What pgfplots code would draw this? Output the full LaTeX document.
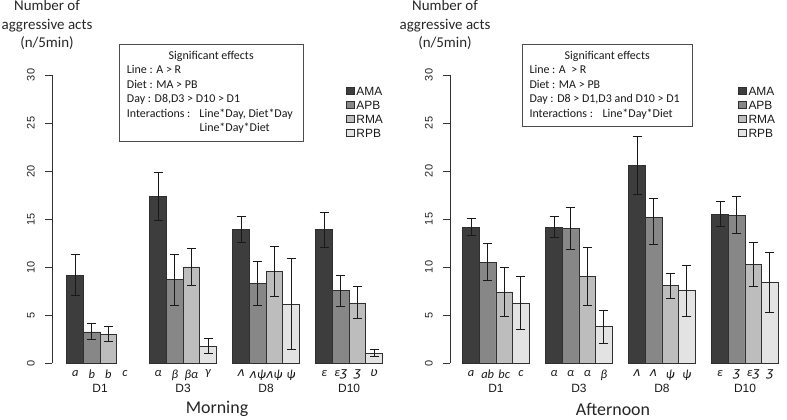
\documentclass[border=0pt]{standalone}
\usepackage{pgfplots}
\pgfplotsset{compat=1.18}
\usepackage{fontspec}
\setmainfont{Carlito}
\newfontfamily\arial{Liberation Sans}
\newfontfamily\ipa{DejaVu Sans}
\definecolor{cAMA}{HTML}{3D3D3D}
\definecolor{cAPB}{HTML}{878787}
\definecolor{cRMA}{HTML}{BDBDBD}
\definecolor{cRPB}{HTML}{E3E3E3}
\definecolor{edge}{HTML}{303030}
\pgfplotsset{
  panel/.style={
    scale only axis, height=288bp, ymin=0, ymax=30,
    anchor=south west,
    axis y line*=left, axis x line*=bottom,
    x axis line style={draw=none},
    y axis line style={draw=black!80, line width=0.9bp},
    ytick={0,5,...,30},
    ytick style={draw=black!80, line width=0.9bp},
    xtick style={draw=none},
    tick align=outside, major tick length=7bp,
    /pgf/number format/assume math mode=true,
    yticklabel style={rotate=90, anchor=south, inner ysep=10bp, font=\arial\fontsize{11}{11}\selectfont, text=black!85},
    xtick={1.5,2.5,3.5,4.5,6.5,7.5,8.5,9.5,11.5,12.5,13.5,14.5,16.5,17.5,18.5,19.5},
    xticklabel style={font=\fontsize{12.5}{12.5}\selectfont\itshape, text=black!90, yshift=3.5bp},
    ybar, bar width=1, /pgf/bar shift=0pt,
    every axis plot/.append style={draw=edge, line width=0.9bp},
    error bars/y dir=both, error bars/y explicit,
    error bars/error bar style={line width=1bp, draw=black!90},
    error bars/error mark options={rotate=90, line width=1bp, draw=black!90, mark size=4.5bp},
    legend image code/.code={\draw[#1, draw=edge, line width=0.7bp] (0bp,-3.6bp) rectangle (7.4bp,3.6bp);},
    legend style={draw=none, fill=none, inner sep=0pt, anchor=north west,
      font=\arial\fontsize{12}{12}\selectfont,
      nodes={text height=9bp, text depth=1bp, inner sep=2bp, text=black!90},
      /tikz/every even column/.style={column sep=6bp}},
    legend cell align=left,
    clip=false,
  }
}
\begin{document}
\begin{tikzpicture}
\path[use as bounding box] (0,0) rectangle (787bp,420bp);
% ---------------- Morning ----------------
\begin{axis}[panel, at={(52bp,57bp)}, width=355.2bp, xmin=0.1, xmax=21.5,
  xticklabels={a,b,b,c,α,β,βα,γ,{\ipa ʌ},{\ipa ʌ}ψ,{\ipa ʌ}ψ,ψ,ε,ε{\ipa ʒ},{\ipa ʒ},{\ipa ʋ}},
  legend style={at={(0.828,0.969)}}]
\addplot[fill=cAMA] coordinates {
 (1.5,9.1) += (0,2.2) -= (0,2.05)
 (6.5,17.3) += (0,2.5) -= (0,2.5)
 (11.5,13.9) += (0,1.4) -= (0,1.4)
 (16.5,13.9) += (0,1.8) -= (0,1.9)};
\addplot[fill=cAPB] coordinates {
 (2.5,3.23) += (0,0.87) -= (0,0.78)
 (7.5,8.68) += (0,2.62) -= (0,2.68)
 (12.5,8.26) += (0,2.34) -= (0,2.26)
 (17.5,7.53) += (0,1.57) -= (0,1.63)};
\addplot[fill=cRMA] coordinates {
 (3.5,3.0) += (0,0.85) -= (0,0.75)
 (8.5,10.0) += (0,1.9) -= (0,1.9)
 (13.5,9.55) += (0,2.55) -= (0,2.65)
 (18.5,6.25) += (0,1.7) -= (0,1.65)};
\addplot[fill=cRPB] coordinates {
 (9.5,1.74) += (0,0.81) -= (0,0.74)
 (14.5,6.1) += (0,4.8) -= (0,4.7)
 (19.5,0.97) += (0,0.43) -= (0,0.27)};
\legend{AMA,APB,RMA,RPB}
\node[font=\arial\fontsize{12}{12}\selectfont, text=black!90] at (axis cs:3,0) [yshift=-25bp] {D1};
\node[font=\arial\fontsize{12}{12}\selectfont, text=black!90] at (axis cs:8,0) [yshift=-25bp] {D3};
\node[font=\arial\fontsize{12}{12}\selectfont, text=black!90] at (axis cs:13,0) [yshift=-25bp] {D8};
\node[font=\arial\fontsize{12}{12}\selectfont, text=black!90] at (axis cs:18,0) [yshift=-25bp] {D10};
\end{axis}
% ---------------- Afternoon ----------------
\begin{axis}[panel, at={(450bp,57bp)}, width=343.1bp, xmin=0.23, xmax=20.9,
  xticklabels={a,ab,bc,c,α,α,α,β,{\ipa ʌ},{\ipa ʌ},ψ,ψ,ε,{\ipa ʒ},ε{\ipa ʒ},{\ipa ʒ}},
  legend style={at={(0.84,0.969)}}]
\addplot[fill=cAMA] coordinates {
 (1.5,14.13) += (0,0.87) -= (0,0.83)
 (6.5,14.13) += (0,1.12) -= (0,1.03)
 (11.5,20.6) += (0,3.0) -= (0,3.0)
 (16.5,15.5) += (0,1.3) -= (0,1.3)};
\addplot[fill=cAPB] coordinates {
 (2.5,10.49) += (0,1.96) -= (0,1.89)
 (7.5,14.06) += (0,2.14) -= (0,2.26)
 (12.5,15.2) += (0,1.95) -= (0,2.87)
 (17.5,15.4) += (0,1.9) -= (0,1.9)};
\addplot[fill=cRMA] coordinates {
 (3.5,7.4) += (0,2.5) -= (0,2.55)
 (8.5,9.03) += (0,2.97) -= (0,3.03)
 (13.5,8.06) += (0,1.24) -= (0,1.31)
 (18.5,10.24) += (0,2.36) -= (0,2.24)};
\addplot[fill=cRPB] coordinates {
 (4.5,6.25) += (0,2.8) -= (0,2.75)
 (9.5,3.78) += (0,1.72) -= (0,1.73)
 (14.5,7.53) += (0,2.67) -= (0,2.68)
 (19.5,8.44) += (0,3.11) -= (0,3.19)};
\legend{AMA,APB,RMA,RPB}
\node[font=\arial\fontsize{12}{12}\selectfont, text=black!90] at (axis cs:3,0) [yshift=-25bp] {D1};
\node[font=\arial\fontsize{12}{12}\selectfont, text=black!90] at (axis cs:8,0) [yshift=-25bp] {D3};
\node[font=\arial\fontsize{12}{12}\selectfont, text=black!90] at (axis cs:13,0) [yshift=-25bp] {D8};
\node[font=\arial\fontsize{12}{12}\selectfont, text=black!90] at (axis cs:18,0) [yshift=-25bp] {D10};
\end{axis}
% ---------------- texts ----------------
\node[align=center, font=\fontsize{15}{18.5}\selectfont, text=black!85] at (47bp,395bp) {Number of\\aggressive acts\\(n/5min)};
\node[align=center, font=\fontsize{15}{18.5}\selectfont, text=black!85] at (445bp,395bp) {Number of\\aggressive acts\\(n/5min)};
\node[inner sep=0pt, font=\fontsize{18}{18}\selectfont, text=black!85] at (217bp,11bp) {Morning};
\node[inner sep=0pt, font=\fontsize{18}{18}\selectfont, text=black!85] at (613bp,11bp) {Afternoon};
% box 1
\node[draw=black!70, line width=0.8bp, anchor=north west, inner sep=0pt,
  minimum width=184bp, minimum height=97bp] (b1) at (119bp,376.3bp) {};
\node[anchor=west, inner sep=0pt, font=\fontsize{12}{14.5}\selectfont, text=black!90]
  at ([xshift=7.7bp]b1.west) {\begin{tabular}{@{}l@{}}
   \makebox[168.6bp]{Significant effects}\\
   Line : A > R\\
   Diet : MA > PB\\
   Day : D8,D3 > D10 > D1\\
   \makebox[72.6bp][l]{Interactions :}Line*Day, Diet*Day\\
   \hspace*{72.6bp}Line*Day*Diet
  \end{tabular}};
% box 2
\node[draw=black!70, line width=0.8bp, anchor=north west, inner sep=0pt,
  minimum width=170bp, minimum height=82.3bp] (b2) at (522bp,376.3bp) {};
\node[anchor=west, inner sep=0pt, font=\fontsize{12}{14.5}\selectfont, text=black!90]
  at ([xshift=7.3bp]b2.west) {\begin{tabular}{@{}l@{}}
   \makebox[155.4bp]{Significant effects}\\
   Line : A \ > R\\
   Diet : MA > PB\\
   Day : D8 > D1,D3 and D10 > D1\\
   \makebox[73bp][l]{Interactions :}Line*Day*Diet
  \end{tabular}};
\end{tikzpicture}
\end{document}
